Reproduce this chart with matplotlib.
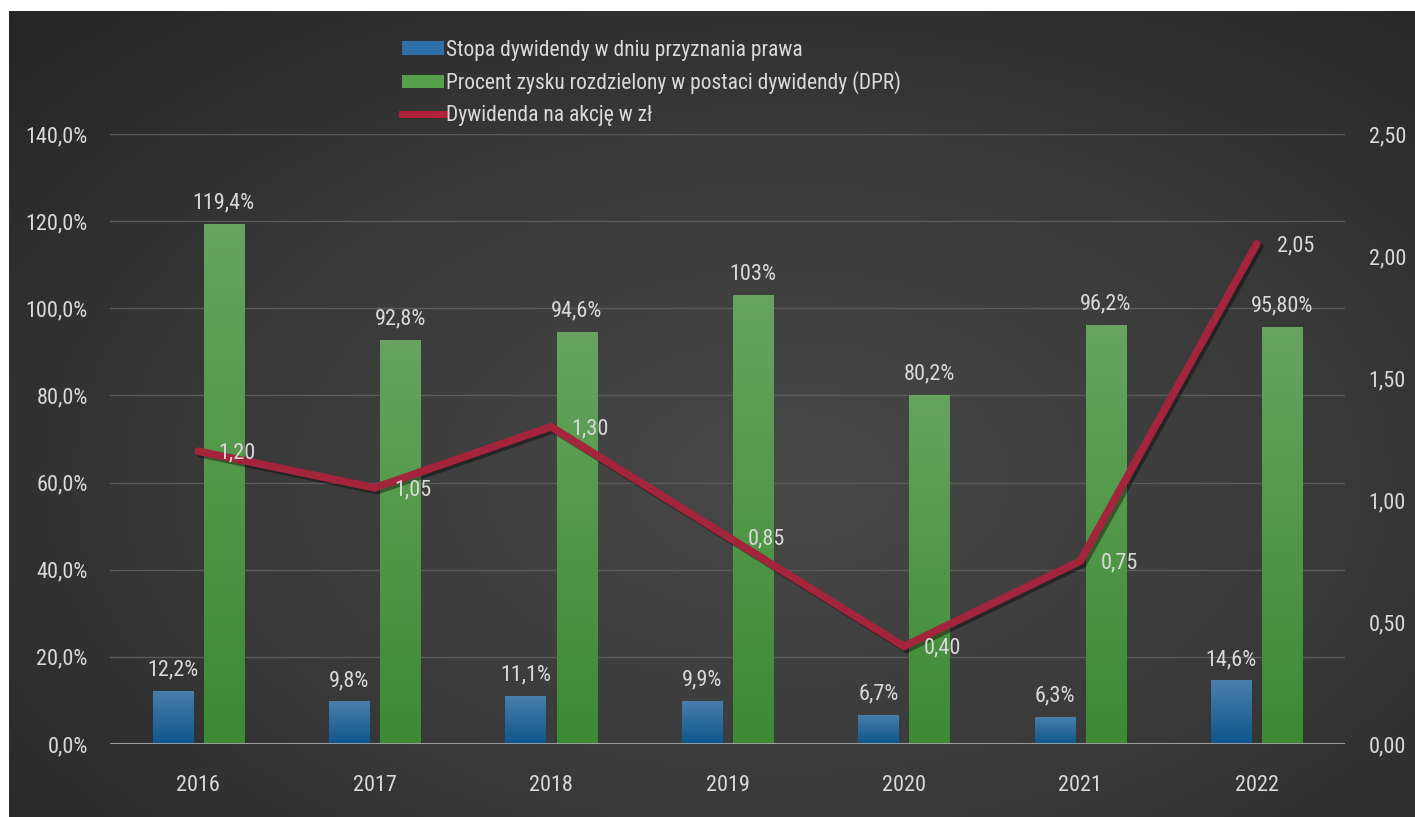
import numpy as np
import matplotlib
matplotlib.use("Agg")
import matplotlib.pyplot as plt
import matplotlib.patheffects as pe
from matplotlib.patches import Rectangle
from matplotlib.lines import Line2D
from matplotlib.colors import LinearSegmentedColormap

# -----------------------------
# Data
# -----------------------------
years = ["2016", "2017", "2018", "2019", "2020", "2021", "2022"]
yield_pct = [12.2, 9.8, 11.1, 9.9, 6.7, 6.3, 14.6]
payout_pct = [119.4, 92.8, 94.6, 103.0, 80.2, 96.2, 95.8]
payout_labels = ["119,4%", "92,8%", "94,6%", "103%", "80,2%", "96,2%", "95,80%"]
dps = [1.20, 1.05, 1.30, 0.85, 0.40, 0.75, 2.05]

left_ticks = [0, 20, 40, 60, 80, 100, 120, 140]
right_ticks = [0.0, 0.5, 1.0, 1.5, 2.0, 2.5]

series_names = [
    "Stopa dywidendy w dniu przyznania prawa",
    "Procent zysku rozdzielony w postaci dywidendy (DPR)",
    "Dywidenda na akcję w zł",
]

FONT = ["Roboto Condensed", "Lato", "DejaVu Sans"]
FS = 16
TXT = "#d9d9d9"
plt.rcParams["font.family"] = FONT

W, H = 1415, 817
fig = plt.figure(figsize=(W / 100, H / 100), dpi=100)
fig.patch.set_facecolor("white")

# -----------------------------
# Dark radial background panel
# -----------------------------
bg = fig.add_axes([9 / W, 0, (W - 9) / W, (H - 11) / H])
bg.set_axis_off()
yy, xx = np.mgrid[0:1:300j, 0:1:500j]
r = np.sqrt(((xx - 0.55) / 0.75) ** 2 + ((yy - 0.58) / 0.8) ** 2)
r = np.clip(r, 0, 1)
bg_cmap = LinearSegmentedColormap.from_list("bg", ["#484848", "#3a3a3a", "#262626"])
bg.imshow(r, cmap=bg_cmap, aspect="auto", extent=[0, 1, 0, 1], vmin=0, vmax=1)
bg.set_xlim(0, 1)
bg.set_ylim(0, 1)

# -----------------------------
# Main axes
# -----------------------------
ax = fig.add_axes([110 / W, (H - 744) / H, 1235 / W, 610 / H])
ax.patch.set_visible(False)
ax2 = ax.twinx()
ax2.patch.set_visible(False)

x = np.arange(len(years))
bw = 0.227
off = 0.145

blue_bars = ax.bar(x - off, yield_pct, width=bw, color="#1f5f93", zorder=3)
green_bars = ax.bar(x + off, payout_pct, width=bw, color="#4a9444", zorder=3)


def gradient_fill(bars, top, bottom):
    cmap = LinearSegmentedColormap.from_list("g", [bottom, top])
    grad = np.linspace(0, 1, 100).reshape(-1, 1)
    for b in bars:
        x0, y0 = b.get_x(), b.get_y()
        im = ax.imshow(grad, cmap=cmap, aspect="auto", origin="lower",
                       extent=[x0, x0 + b.get_width(), y0, y0 + b.get_height()],
                       zorder=3.5)
        im.set_clip_path(b)


gradient_fill(blue_bars, "#4a7fab", "#0d568c")
gradient_fill(green_bars, "#66a45f", "#3c8a33")

ax.set_xlim(-0.5, len(years) - 0.5)
ax.set_ylim(0, 140)
ax.set_yticks(left_ticks)
ax.set_yticklabels([f"{v},0%" for v in left_ticks])
ax.set_xticks(x)
ax.set_xticklabels(years)
ax.grid(axis="y", color="#5c5c5c", linewidth=1, zorder=1)
ax.axhline(0, color="#a6a6a6", linewidth=2, zorder=5)
for s in ax.spines.values():
    s.set_visible(False)
ax.tick_params(axis="both", length=0, colors=TXT, labelsize=FS)
ax.tick_params(axis="y", pad=16)
ax.tick_params(axis="x", pad=22)

# bar labels
for i in range(len(years)):
    ax.text(x[i] - off, yield_pct[i] + 2.3, f"{yield_pct[i]:.1f}%".replace(".", ","),
            ha="center", va="bottom", color=TXT, fontsize=FS, zorder=6)
    ax.text(x[i] + off, payout_pct[i] + 2.3, payout_labels[i],
            ha="center", va="bottom", color=TXT, fontsize=FS, zorder=6)

# line on secondary axis
ax2.plot(x, dps, color="#a3243b", linewidth=5.5, solid_capstyle="round",
         solid_joinstyle="miter", zorder=4,
         path_effects=[pe.SimpleLineShadow(offset=(2, -2), shadow_color="black", alpha=0.4),
                       pe.Normal()])
for i in range(len(years)):
    ax2.annotate(f"{dps[i]:.2f}".replace(".", ","), (x[i], dps[i]),
                 xytext=(20, -2), textcoords="offset pixels",
                 ha="left", va="center", color=TXT, fontsize=FS, zorder=6)
ax2.set_ylim(0, 2.5)
ax2.set_yticks(right_ticks)
ax2.set_yticklabels([f"{v:.2f}".replace(".", ",") for v in right_ticks])
for s in ax2.spines.values():
    s.set_visible(False)
ax2.tick_params(axis="y", length=0, colors=TXT, labelsize=FS, pad=17)

# legend
handles = [
    Rectangle((0, 0), 1, 1, facecolor="#2e6fa8"),
    Rectangle((0, 0), 1, 1, facecolor="#56a04c"),
    Line2D([0], [0], color="#b0223a", linewidth=5),
]
fig.legend(handles, series_names, loc="upper left", bbox_to_anchor=(393 / W, 1 - 31 / H),
           frameon=False, fontsize=15.5, labelcolor=TXT, handlelength=1.95,
           handleheight=0.6, handletextpad=0.12, labelspacing=0.5, borderaxespad=0)

fig.savefig("out.png", dpi=100)
